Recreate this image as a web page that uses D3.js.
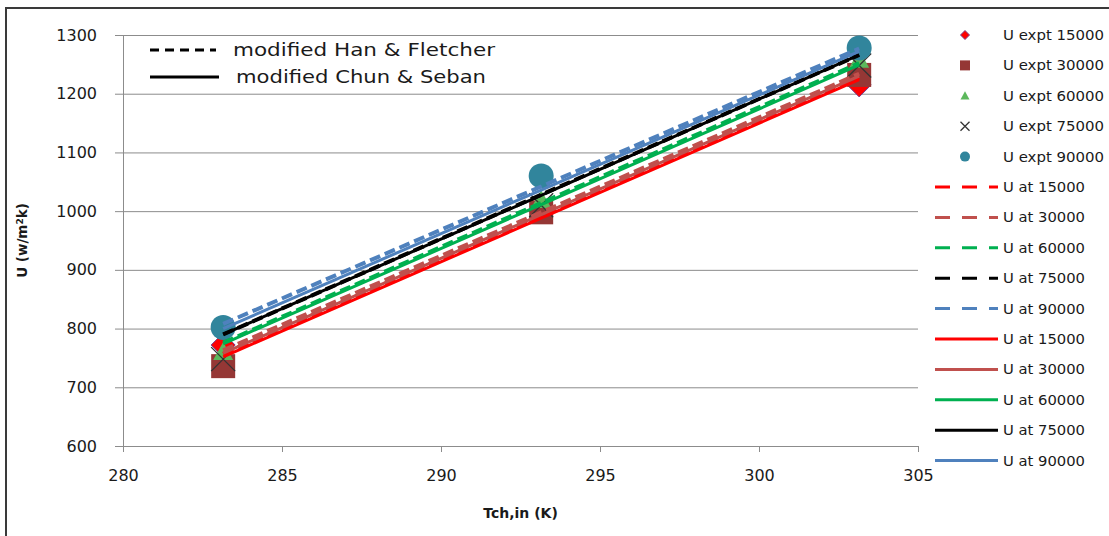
<!DOCTYPE html>
<html>
<head>
<meta charset="utf-8">
<script src="https://cdn.jsdelivr.net/npm/d3@7"></script>
<style>
  body { margin: 0; background: #fff; }
  text { font-family: "DejaVu Sans", Verdana, sans-serif; fill: #1a1a1a; }
</style>
</head>
<body>
<div id="chart"></div>
<script>
// Inlet temperature of the channel (K)
const tch = [283.15, 293.15, 303.15];

// Experimental U values (W/m2K) per Reynolds number
const expt15000 = [772, 1000, 1215];
const expt30000 = [736, 998, 1232];
const expt60000 = [760, 1019, 1258];
const expt75000 = [748, 1010, 1248];
const expt90000 = [802, 1060, 1278];

// modified Han & Fletcher (dashed)
const hf15000 = [757, 992, 1228];
const hf30000 = [763, 998, 1234];
const hf60000 = [776, 1014, 1252];
const hf75000 = [790, 1028, 1266];
const hf90000 = [808, 1042, 1277];

// modified Chun & Seban (solid)
const cs15000 = [752, 988, 1224];
const cs30000 = [758, 994, 1230];
const cs60000 = [774, 1011, 1249];
const cs75000 = [790, 1027, 1266];
const cs90000 = [800, 1036, 1272];

const xTicks = [280, 285, 290, 295, 300, 305];
const yTicks = [600, 700, 800, 900, 1000, 1100, 1200, 1300];

const lineColors = ["#ff0000", "#c0504d", "#00b050", "#000000", "#4f81bd"];

const exptSeries = [
  {name: "U expt 15000", values: expt15000, shape: "diamond", color: "#ff0000", stroke: "#7a3a8a"},
  {name: "U expt 30000", values: expt30000, shape: "square", color: "#953735", stroke: "none"},
  {name: "U expt 60000", values: expt60000, shape: "triangle", color: "#5cb85c", stroke: "none"},
  {name: "U expt 75000", values: expt75000, shape: "cross", color: "#333333", stroke: "none"},
  {name: "U expt 90000", values: expt90000, shape: "circle", color: "#31859c", stroke: "none"}
];
const hfSeries = [hf15000, hf30000, hf60000, hf75000, hf90000];
const csSeries = [cs15000, cs30000, cs60000, cs75000, cs90000];

const width = 1109, height = 536;
const marginLeft = 123, marginRight = 191, marginTop = 35, marginBottom = 90;

const x = d3.scaleLinear().domain([280, 305]).range([marginLeft, width - marginRight]);
const y = d3.scaleLinear().domain([600, 1300]).range([height - marginBottom, marginTop]);

const svg = d3.select("#chart").append("svg")
    .attr("width", width)
    .attr("height", height);

// outer frame
svg.append("rect")
    .attr("x", 6).attr("y", 8)
    .attr("width", width + 20).attr("height", height + 20)
    .attr("fill", "none")
    .attr("stroke", "#3a3a3a")
    .attr("stroke-width", 2);

// horizontal gridlines + y axis
svg.append("g")
    .attr("transform", `translate(${marginLeft},0)`)
    .call(d3.axisLeft(y).tickValues(yTicks).tickFormat(d3.format("d"))
        .tickSize(-(x(305) - x(280))).tickSizeOuter(0).tickPadding(26))
    .call(g => g.select(".domain").attr("stroke", "#8c8c8c"))
    .call(g => g.selectAll(".tick line").attr("stroke", "#8c8c8c").attr("x1", -8))
    .call(g => g.selectAll(".tick text")
        .attr("font-size", 16)
        .attr("font-family", "DejaVu Sans")
        .attr("fill", "#1a1a1a"));

// x axis
svg.append("g")
    .attr("transform", `translate(0,${y(600)})`)
    .call(d3.axisBottom(x).tickValues(xTicks).tickSize(6).tickSizeOuter(0).tickPadding(18))
    .call(g => g.select(".domain").attr("stroke", "#8c8c8c"))
    .call(g => g.selectAll(".tick line").attr("stroke", "#8c8c8c"))
    .call(g => g.selectAll(".tick text")
        .attr("font-size", 16)
        .attr("font-family", "DejaVu Sans")
        .attr("fill", "#1a1a1a"));

// marker drawing
function marker(g, shape, color, stroke, size) {
  if (shape === "circle") {
    g.append("circle").attr("r", size / 2).attr("fill", color);
  } else if (shape === "square") {
    g.append("rect").attr("x", -size / 2).attr("y", -size / 2)
        .attr("width", size).attr("height", size).attr("fill", color);
  } else if (shape === "diamond") {
    const s = size / 2;
    g.append("path").attr("d", `M0,${-s}L${s},0L0,${s}L${-s},0Z`)
        .attr("fill", color).attr("stroke", stroke).attr("stroke-width", 1);
  } else if (shape === "triangle") {
    const s = size / 2;
    g.append("path").attr("d", `M0,${-s}L${s},${s * 0.8}L${-s},${s * 0.8}Z`).attr("fill", color);
  } else if (shape === "cross") {
    const s = size / 2;
    g.append("path").attr("d", `M${-s},${-s}L${s},${s}M${-s},${s}L${s},${-s}`)
        .attr("stroke", color).attr("stroke-width", 1.3).attr("fill", "none");
  }
}

// experimental points
exptSeries.forEach(s => {
  s.values.forEach((v, i) => {
    const g = svg.append("g").attr("transform", `translate(${x(tch[i])},${y(v)})`);
    const sz = s.shape === "circle" ? 25 : s.shape === "triangle" ? 20 : 24;
    marker(g, s.shape, s.color, s.stroke, sz);
  });
});

const line = d3.line().x((d, i) => x(tch[i])).y(d => y(d));

// Han & Fletcher dashed
hfSeries.forEach((vals, k) => {
  svg.append("path")
      .attr("d", line(vals))
      .attr("fill", "none")
      .attr("stroke", lineColors[k])
      .attr("stroke-width", 4)
      .attr("stroke-dasharray", "11,5");
});

// Chun & Seban solid
csSeries.forEach((vals, k) => {
  svg.append("path")
      .attr("d", line(vals))
      .attr("fill", "none")
      .attr("stroke", lineColors[k])
      .attr("stroke-width", 3);
});

// inset legend
const inset = svg.append("g");
inset.append("line").attr("x1", 150).attr("x2", 216).attr("y1", 50).attr("y2", 50)
    .attr("stroke", "#000").attr("stroke-width", 3).attr("stroke-dasharray", "9,6");
inset.append("text").attr("x", 233).attr("y", 56).attr("font-size", 18)
    .attr("textLength", 262).attr("lengthAdjust", "spacingAndGlyphs")
    .text("modified Han & Fletcher");
inset.append("line").attr("x1", 150).attr("x2", 219).attr("y1", 77).attr("y2", 77)
    .attr("stroke", "#000").attr("stroke-width", 3);
inset.append("text").attr("x", 236).attr("y", 83).attr("font-size", 18)
    .attr("textLength", 250).attr("lengthAdjust", "spacingAndGlyphs")
    .text("modified Chun & Seban");

// right legend
const legend = svg.append("g");
const rowY = i => 35 + i * 30.4;
exptSeries.forEach((s, i) => {
  const g = legend.append("g").attr("transform", `translate(965,${rowY(i)})`);
  const sz = s.shape === "circle" ? 10 : s.shape === "square" ? 10 : 9;
  marker(g, s.shape, s.color, s.stroke, sz);
  legend.append("text").attr("x", 1003).attr("y", rowY(i) + 5)
      .attr("font-size", 14).attr("textLength", 101).attr("lengthAdjust", "spacingAndGlyphs")
      .text(s.name);
});
const lineNames = ["U at 15000", "U at 30000", "U at 60000", "U at 75000", "U at 90000"];
[true, false].forEach((dashed, d) => {
  lineNames.forEach((n, k) => {
    const ry = rowY(5 + d * 5 + k);
    legend.append("line").attr("x1", 935).attr("x2", 998).attr("y1", ry).attr("y2", ry)
        .attr("stroke", lineColors[k]).attr("stroke-width", 3)
        .attr("stroke-dasharray", dashed ? "15,12" : null);
    legend.append("text").attr("x", 1003).attr("y", ry + 5)
        .attr("font-size", 14).attr("textLength", 82).attr("lengthAdjust", "spacingAndGlyphs")
        .text(n);
  });
});

// axis titles
svg.append("text")
    .attr("transform", `translate(${x(292.5)},${518})`)
    .attr("text-anchor", "middle")
    .attr("font-size", 14).attr("font-weight", "bold")
    .text("Tch,in (K)");

const yt = svg.append("text")
    .attr("transform", `translate(27,${y(950)}) rotate(-90)`)
    .attr("text-anchor", "middle")
    .attr("font-size", 13.5).attr("font-weight", "bold");
yt.append("tspan").text("U (w/m");
yt.append("tspan").attr("dy", -4).attr("font-size", 9).text("2");
yt.append("tspan").attr("dy", 4).text("k)");
</script>
</body>
</html>
